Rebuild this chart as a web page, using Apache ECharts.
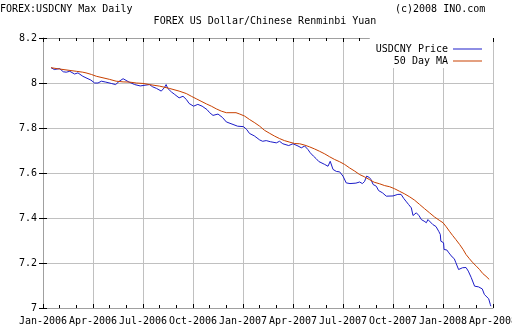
<!DOCTYPE html>
<html>
<head>
<meta charset="utf-8">
<script src="https://cdn.jsdelivr.net/npm/echarts@6/dist/echarts.min.js"></script>
<style>html,body{margin:0;padding:0;background:#fff;}#c{width:512px;height:336px;}</style>
</head>
<body>
<div id="c"></div>
<script>
// ---- data ----
const xTickLabels = ['Jan-2006','Apr-2006','Jul-2006','Oct-2006','Jan-2007','Apr-2007','Jul-2007','Oct-2007','Jan-2008','Apr-2008'];
const yTicks = [7, 7.2, 7.4, 7.6, 7.8, 8, 8.2];

const priceDates = [
 '2006-01-16','2006-01-22','2006-02-01','2006-02-07','2006-02-12','2006-02-18','2006-02-26','2006-03-04','2006-03-07','2006-03-13','2006-03-19','2006-03-28','2006-04-04','2006-04-10','2006-04-16','2006-04-24','2006-05-04','2006-05-12','2006-05-19','2006-05-26','2006-06-06','2006-06-16','2006-06-26',
 '2006-07-13','2006-07-19','2006-07-26','2006-08-04','2006-08-10','2006-08-13','2006-08-16','2006-08-23','2006-08-29','2006-09-06','2006-09-13','2006-09-19','2006-09-24','2006-10-02','2006-10-10','2006-10-18','2006-10-27','2006-11-01','2006-11-07','2006-11-16','2006-11-24','2006-12-01',
 '2006-12-22','2007-01-02','2007-01-08','2007-01-13','2007-01-22','2007-02-01','2007-02-06','2007-02-12','2007-02-19','2007-03-01','2007-03-07','2007-03-13','2007-03-24','2007-04-01','2007-04-10','2007-04-16','2007-04-22','2007-04-28','2007-05-02','2007-05-08','2007-05-13','2007-05-18','2007-05-29','2007-06-04','2007-06-08','2007-06-13','2007-06-19','2007-06-25','2007-07-01',
 '2007-07-04','2007-07-07','2007-07-14','2007-07-25','2007-08-01','2007-08-06','2007-08-10','2007-08-14','2007-08-19','2007-08-22','2007-08-26','2007-09-01','2007-09-05','2007-09-12','2007-09-19','2007-09-21','2007-10-01','2007-10-10','2007-10-13','2007-10-16','2007-10-21','2007-10-25','2007-10-30','2007-11-04','2007-11-07','2007-11-13','2007-11-18','2007-11-22','2007-11-27','2007-12-01','2007-12-04','2007-12-07','2007-12-13','2007-12-19','2007-12-24','2007-12-27',
 '2007-12-28','2008-01-02','2008-01-03','2008-01-08','2008-01-12','2008-01-15','2008-01-18','2008-01-22','2008-01-25','2008-01-30','2008-02-06','2008-02-12','2008-02-16','2008-02-21','2008-02-23','2008-02-27','2008-03-05','2008-03-12','2008-03-16','2008-03-19','2008-03-24','2008-03-27','2008-03-28'
];
const priceValues = [
 8.068,8.060,8.064,8.050,8.048,8.052,8.040,8.045,8.050,8.030,8.023,8.013,8.000,8.000,8.008,8.004,7.998,7.993,8.008,8.019,8.004,7.993,7.987,
 7.993,7.983,7.976,7.964,7.980,7.993,7.976,7.960,7.949,7.934,7.941,7.927,7.909,7.897,7.905,7.897,7.882,7.868,7.856,7.862,7.847,7.827,
 7.808,7.806,7.793,7.776,7.765,7.747,7.741,7.744,7.739,7.734,7.741,7.730,7.722,7.730,7.720,7.712,7.720,7.704,7.690,7.675,7.664,7.651,7.638,7.630,7.652,7.616,7.607,7.605,7.586,
 7.590,7.556,7.553,7.555,7.560,7.553,7.562,7.586,7.580,7.571,7.549,7.541,7.522,7.512,7.497,7.505,7.498,7.505,7.512,7.505,7.487,7.475,7.460,7.445,7.411,7.423,7.410,7.393,7.386,7.379,7.393,7.400,7.371,7.362,7.341,7.327,
 7.297,7.290,7.260,7.258,7.245,7.236,7.227,7.219,7.201,7.171,7.179,7.180,7.164,7.136,7.140,7.097,7.094,7.085,7.060,7.056,7.041,7.016,7.008
];

const maDates = [
 '2006-01-16','2006-01-29','2006-02-15','2006-03-01','2006-03-13','2006-03-19','2006-03-29','2006-04-07','2006-04-19','2006-05-01','2006-05-13','2006-05-26','2006-06-07','2006-06-19','2006-07-01','2006-07-13','2006-08-01','2006-08-19','2006-09-06','2006-09-19','2006-09-28','2006-10-07','2006-10-16','2006-10-26','2006-11-04','2006-11-13','2006-11-22','2006-12-01','2006-12-19','2006-12-26',
 '2007-01-04','2007-01-13','2007-01-23','2007-02-01','2007-02-09','2007-02-18','2007-02-26','2007-03-07','2007-03-16','2007-03-26','2007-04-04','2007-04-13','2007-04-22','2007-05-01','2007-05-10','2007-05-19','2007-05-29','2007-06-07','2007-06-16','2007-06-25','2007-07-04','2007-07-13','2007-07-23','2007-08-01','2007-08-10','2007-08-19','2007-08-28','2007-09-07','2007-09-16','2007-09-25','2007-10-04','2007-10-13','2007-10-22','2007-11-01','2007-11-10','2007-11-19','2007-11-28','2007-12-07','2007-12-16','2007-12-25',
 '2008-01-01','2008-01-07','2008-01-13','2008-01-19','2008-01-25','2008-02-01','2008-02-07','2008-02-12','2008-02-18','2008-02-24','2008-03-01','2008-03-07','2008-03-13','2008-03-19','2008-03-25'
];
const maValues = [
 8.068,8.063,8.057,8.052,8.048,8.045,8.038,8.030,8.023,8.016,8.008,8.005,8.004,8.000,7.998,7.993,7.986,7.976,7.964,7.953,7.941,7.930,7.919,7.907,7.897,7.885,7.875,7.868,7.868,7.862,
 7.853,7.838,7.823,7.808,7.790,7.776,7.764,7.753,7.744,7.737,7.731,7.730,7.724,7.716,7.707,7.697,7.685,7.672,7.660,7.650,7.638,7.623,7.608,7.593,7.583,7.571,7.559,7.552,7.544,7.539,7.530,7.519,7.508,7.494,7.479,7.460,7.441,7.423,7.405,7.390,
 7.379,7.361,7.341,7.322,7.304,7.282,7.260,7.238,7.219,7.201,7.186,7.171,7.153,7.141,7.127
];

// ---- helpers ----
function toMonth(s) {
  const p = s.split('-').map(Number);
  const dim = new Date(p[0], p[1], 0).getDate();
  return (p[0] - 2006) * 12 + (p[1] - 1) + (p[2] - 1) / dim;
}
const pricePts = priceDates.map((d, i) => [toMonth(d), priceValues[i]]);
const maPts = maDates.map((d, i) => [toMonth(d), maValues[i]]);

const FONT = '"DejaVu Sans Mono", "Liberation Mono", monospace';
const chart = echarts.init(document.getElementById('c'), null, {renderer: 'canvas'});
const xMax = (xTickLabels.length - 1) * 3;
const axisGray = '#a0a0a0';

chart.setOption({
  animation: false,
  backgroundColor: '#fff',
  grid: {left: 43, right: 19, top: 38, bottom: 28, containLabel: false, outerBoundsMode: 'none'},
  graphic: [
    {type: 'text', x: 0, y: 9, style: {text: 'FOREX:USDCNY Max Daily', font: '10px ' + FONT, fill: '#000', textVerticalAlign: 'middle'}},
    {type: 'text', x: 395, y: 9, style: {text: '(c)2008 INO.com', font: '10px ' + FONT, fill: '#000', textVerticalAlign: 'middle'}},
    {type: 'text', x: 265, y: 21, style: {text: 'FOREX US Dollar/Chinese Renminbi Yuan', font: '10px ' + FONT, fill: '#000', textAlign: 'center', textVerticalAlign: 'middle'}}
  ],
  legend: {
    orient: 'vertical', right: 19, top: 38, align: 'right',
    backgroundColor: '#fff', padding: [6, 11, 2, 6],
    itemWidth: 29, itemHeight: 1, itemGap: 2, icon: 'rect',
    selectedMode: false,
    textStyle: {fontFamily: FONT, fontSize: 10, color: '#000'},
    data: ['USDCNY Price', '50 Day MA']
  },
  xAxis: [{
    type: 'value', min: 0, max: xMax, interval: 3, position: 'bottom',
    axisLine: {show: true, onZero: false, lineStyle: {color: axisGray}},
    axisTick: {show: true, inside: true, length: 4, lineStyle: {color: '#000'}},
    minorTick: {show: true, splitNumber: 3, length: 3, lineStyle: {color: '#000'}},
    splitLine: {show: true, lineStyle: {color: '#c0c0c0'}},
    axisLabel: {margin: 8, fontFamily: FONT, fontSize: 10, color: '#000',
      alignMinLabel: 'center', alignMaxLabel: 'center', hideOverlap: false,
      formatter: v => xTickLabels[Math.round(v / 3)] || ''}
  }, {
    type: 'value', min: 0, max: xMax, interval: 3, position: 'top',
    axisLine: {show: true, onZero: false, lineStyle: {color: axisGray}},
    axisTick: {show: true, inside: true, length: 4, lineStyle: {color: '#000'}},
    minorTick: {show: true, splitNumber: 3, length: 3, lineStyle: {color: '#000'}},
    splitLine: {show: false}, axisLabel: {show: false}
  }],
  yAxis: [{
    type: 'value', min: yTicks[0], max: yTicks[yTicks.length - 1], interval: 0.2, position: 'left',
    axisLine: {show: true, lineStyle: {color: axisGray}},
    axisTick: {show: true, inside: true, length: 4, lineStyle: {color: '#000'}},
    splitLine: {show: true, lineStyle: {color: '#c0c0c0'}},
    axisLabel: {margin: 6, fontFamily: FONT, fontSize: 10, color: '#000'}
  }, {
    type: 'value', min: yTicks[0], max: yTicks[yTicks.length - 1], interval: 0.2, position: 'right',
    axisLine: {show: true, lineStyle: {color: axisGray}},
    axisTick: {show: true, inside: true, length: 4, lineStyle: {color: '#000'}},
    splitLine: {show: false}, axisLabel: {show: false}
  }],
  series: [{
    name: 'USDCNY Price', type: 'line', xAxisIndex: 0, yAxisIndex: 0,
    data: pricePts, showSymbol: false, symbol: 'none',
    color: '#1c1cc8', lineStyle: {width: 1, color: '#1c1cc8'}
  }, {
    name: '50 Day MA', type: 'line', xAxisIndex: 0, yAxisIndex: 0,
    data: maPts, showSymbol: false, symbol: 'none',
    color: '#c84000', lineStyle: {width: 1, color: '#c84000'}
  }]
});
</script>
</body>
</html>
